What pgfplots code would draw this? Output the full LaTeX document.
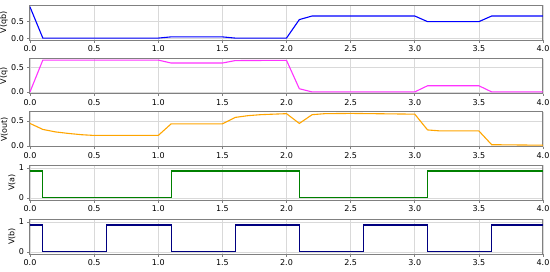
\documentclass[border=0pt]{standalone}
\usepackage{fontspec}
\setmainfont{DejaVu Sans}
\usepackage{pgfplots}
\pgfplotsset{compat=1.18}

\definecolor{cqb}{HTML}{0000FF}
\definecolor{cq}{HTML}{FF33FF}
\definecolor{cout}{HTML}{FFA500}
\definecolor{ca}{HTML}{008000}
\definecolor{cb}{HTML}{000080}

\pgfplotsset{
  vplot/.style={
    scale only axis, width=513pt, height=35pt,
    anchor=north west,
    xmin=0, xmax=4,
    xtick={0,0.5,1,1.5,2,2.5,3,3.5,4},
    xticklabel style={/pgf/number format/.cd, fixed, fixed zerofill, precision=1},
    grid=major, major grid style={gray!30, line width=0.5pt},
    axis line style={draw=gray, line width=1pt},
    tick align=outside, tick pos=left, major tick length=2.5pt,
    tick style={gray, line width=0.6pt},
    font=\fontsize{8}{9}\selectfont,
    /pgf/number format/assume math mode=true,
    ylabel style={inner sep=0pt, outer sep=0pt},
    every axis plot/.append style={line width=1.1pt, mark=none},
  },
  analog/.style={ytick={0,0.5}, yticklabels={0.0,0.5}},
  digital/.style={ymin=-0.07, ymax=1.1, ytick={0,1}, yticklabels={0,1}},
}

\begin{document}
\begin{tikzpicture}
  \begin{axis}[vplot, analog, at={(30pt,-5pt)}, ymin=-0.046, ymax=0.976, ylabel={V(qb)}]
    \addplot[cqb] coordinates {
      (0,0.92)(0.1,0.01)(1.0,0.01)(1.1,0.045)(1.5,0.045)(1.6,0.01)(2.0,0.01)
      (2.1,0.55)(2.2,0.655)(3.0,0.655)(3.1,0.49)(3.5,0.49)(3.6,0.655)(4.0,0.655)
    };
  \end{axis}

  \begin{axis}[vplot, analog, at={(30pt,-58.5pt)}, ymin=-0.032, ymax=0.677, ylabel={V(q)}]
    \addplot[cq] coordinates {
      (0,0.0)(0.1,0.645)(1.0,0.645)(1.1,0.585)(1.5,0.585)(1.6,0.635)(2.0,0.64)
      (2.1,0.065)(2.2,0.0)(3.0,0.0)(3.1,0.125)(3.5,0.125)(3.6,0.0)(4.0,0.0)
    };
  \end{axis}

  \begin{axis}[vplot, analog, at={(30pt,-111.8pt)}, ymin=-0.017, ymax=0.682, ylabel={V(out)}]
    \addplot[cout] coordinates {
      (0,0.45)(0.1,0.33)(0.2,0.28)(0.3,0.25)(0.4,0.225)(0.5,0.21)(1.0,0.21)
      (1.1,0.44)(1.5,0.44)(1.6,0.57)(1.7,0.605)(1.8,0.625)(1.9,0.635)(2.0,0.645)
      (2.1,0.45)(2.2,0.625)(2.3,0.645)(2.5,0.65)(3.0,0.635)(3.1,0.32)(3.2,0.30)
      (3.5,0.30)(3.6,0.025)(4.0,0.015)
    };
  \end{axis}

  \begin{axis}[vplot, digital, at={(30pt,-165pt)}, ylabel={V(a)}]
    \addplot[ca] coordinates {
      (0,0.9)(0.1,0.9)(0.1,0)(1.1,0)(1.1,0.9)(2.1,0.9)(2.1,0)(3.1,0)(3.1,0.9)(4.0,0.9)
    };
  \end{axis}

  \begin{axis}[vplot, digital, at={(30pt,-219pt)}, ylabel={V(b)}]
    \addplot[cb] coordinates {
      (0,0.9)(0.1,0.9)(0.1,0)(0.6,0)(0.6,0.9)(1.1,0.9)(1.1,0)(1.6,0)(1.6,0.9)
      (2.1,0.9)(2.1,0)(2.6,0)(2.6,0.9)(3.1,0.9)(3.1,0)(3.6,0)(3.6,0.9)(4.0,0.9)
    };
  \end{axis}

  \pgfresetboundingbox
  \path (0,0) rectangle (550pt,-271pt);
\end{tikzpicture}
\end{document}
